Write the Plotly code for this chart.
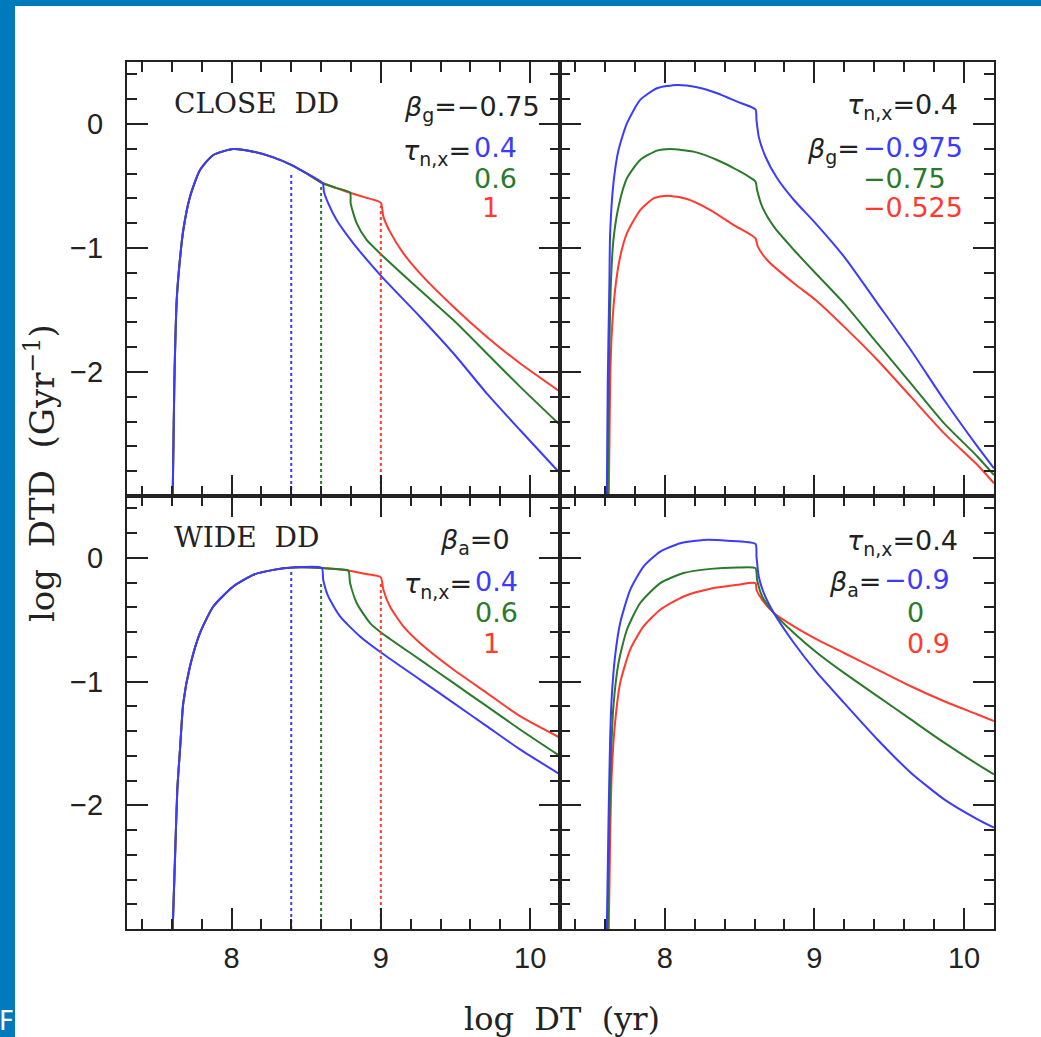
import plotly.graph_objects as go

W, H = 1041, 1037

BLUE = "#3b3bff"
GREEN = "#2a7a2a"
RED = "#ff3a2f"
INK = "#222222"

# ---------------- data ----------------
# Top-left: CLOSE DD, beta_g = -0.75, tau_n,x = 0.4 / 0.6 / 1
TL_BLUE_X = [7.606, 7.617, 7.633, 7.650, 7.677, 7.722, 7.789, 7.878, 8.012, 8.146, 8.280, 8.403, 8.503, 8.611,
             8.619, 8.648, 8.704, 8.816, 9.006, 9.262, 9.486, 9.709, 9.932, 10.2]
TL_BLUE_Y = [-3.0, -2.09, -1.42, -1.15, -0.855, -0.586, -0.371, -0.25, -0.202, -0.223, -0.269, -0.331, -0.398, -0.478,
             -0.546, -0.640, -0.774, -0.962, -1.231, -1.554, -1.849, -2.172, -2.468, -2.817]
TL_GREEN_X = [7.606, 7.617, 7.633, 7.650, 7.677, 7.722, 7.789, 7.878, 8.012, 8.146, 8.280, 8.403, 8.503, 8.611,
              8.70, 8.794, 8.798, 8.838, 8.905, 9.006, 9.262, 9.486, 9.709, 9.932, 10.2]
TL_GREEN_Y = [-3.0, -2.09, -1.42, -1.15, -0.855, -0.586, -0.371, -0.25, -0.202, -0.223, -0.269, -0.331, -0.398, -0.478,
              -0.515, -0.554, -0.64, -0.80, -0.935, -1.056, -1.339, -1.581, -1.849, -2.118, -2.427]
TL_RED_X = [7.606, 7.617, 7.633, 7.650, 7.677, 7.722, 7.789, 7.878, 8.012, 8.146, 8.280, 8.403, 8.503, 8.611,
            8.70, 8.794, 8.90, 8.999, 9.017, 9.061, 9.151, 9.262, 9.486, 9.709, 9.932, 10.2]
TL_RED_Y = [-3.0, -2.09, -1.42, -1.15, -0.855, -0.586, -0.371, -0.25, -0.202, -0.223, -0.269, -0.331, -0.398, -0.478,
            -0.515, -0.554, -0.594, -0.634, -0.747, -0.868, -1.043, -1.204, -1.473, -1.715, -1.93, -2.159]
TL_DOT_X = [8.4, 8.6, 9.0]
TL_DOT_TOP = [-0.40, -0.50, -0.66]

# Top-right: tau_n,x = 0.4, beta_g = -0.975 / -0.75 / -0.525
TR_BLUE_X = [7.613, 7.619, 7.630, 7.635, 7.657, 7.691, 7.747, 7.836, 7.948, 8.082, 8.216, 8.350, 8.484, 8.606,
             8.613, 8.628, 8.673, 8.751, 8.863, 9.008, 9.198, 9.421, 9.644, 9.867, 10.09, 10.2]
TR_BLUE_Y = [-3.0, -2.09, -1.285, -0.882, -0.478, -0.21, 0.005, 0.194, 0.288, 0.315, 0.296, 0.248, 0.18, 0.118,
             0.032, -0.102, -0.264, -0.438, -0.613, -0.801, -1.07, -1.446, -1.823, -2.226, -2.602, -2.777]
TR_GREEN_X = [7.619, 7.630, 7.640, 7.657, 7.691, 7.747, 7.836, 7.948, 8.036, 8.192, 8.350, 8.484, 8.606,
              8.617, 8.651, 8.729, 8.863, 9.008, 9.198, 9.421, 9.644, 9.867, 10.09, 10.2]
TR_GREEN_Y = [-3.0, -1.823, -1.285, -0.935, -0.667, -0.438, -0.29, -0.215, -0.202, -0.223, -0.29, -0.371, -0.465,
              -0.532, -0.667, -0.828, -1.016, -1.204, -1.446, -1.769, -2.091, -2.414, -2.683, -2.831]
TR_RED_X = [7.626, 7.635, 7.646, 7.668, 7.702, 7.747, 7.836, 7.925, 8.015, 8.149, 8.305, 8.461, 8.606,
            8.622, 8.684, 8.863, 9.008, 9.198, 9.421, 9.644, 9.867, 10.09, 10.2]
TR_RED_Y = [-3.0, -2.09, -1.688, -1.339, -1.07, -0.882, -0.694, -0.6, -0.578, -0.605, -0.694, -0.815, -0.922,
            -0.989, -1.097, -1.285, -1.419, -1.634, -1.903, -2.199, -2.495, -2.75, -2.898]

# Bottom-left: WIDE DD, beta_a = 0, tau_n,x = 0.4 / 0.6 / 1
BL_BLUE_X = [7.606, 7.622, 7.637, 7.655, 7.677, 7.722, 7.789, 7.878, 8.012, 8.146, 8.280, 8.414, 8.604,
             8.614, 8.648, 8.727, 8.861, 9.006, 9.262, 9.486, 9.709, 9.932, 10.2]
BL_BLUE_Y = [-3.0, -2.409, -1.871, -1.548, -1.172, -0.877, -0.607, -0.393, -0.231, -0.137, -0.097, -0.078, -0.081,
             -0.177, -0.312, -0.473, -0.635, -0.769, -0.984, -1.172, -1.36, -1.548, -1.75]
BL_GREEN_X = [7.606, 7.622, 7.637, 7.655, 7.677, 7.722, 7.789, 7.878, 8.012, 8.146, 8.280, 8.414, 8.604,
              8.70, 8.782, 8.794, 8.838, 8.928, 9.006, 9.262, 9.486, 9.709, 9.932, 10.2]
BL_GREEN_Y = [-3.0, -2.409, -1.871, -1.548, -1.172, -0.877, -0.607, -0.393, -0.231, -0.137, -0.097, -0.078, -0.081,
              -0.09, -0.102, -0.204, -0.365, -0.527, -0.607, -0.823, -1.011, -1.199, -1.387, -1.602]
BL_RED_X = [7.606, 7.622, 7.637, 7.655, 7.677, 7.722, 7.789, 7.878, 8.012, 8.146, 8.280, 8.414, 8.604,
            8.70, 8.782, 8.90, 8.999, 9.017, 9.061, 9.151, 9.262, 9.486, 9.709, 9.932, 10.2]
BL_RED_Y = [-3.0, -2.409, -1.871, -1.548, -1.172, -0.877, -0.607, -0.393, -0.231, -0.137, -0.097, -0.078, -0.081,
            -0.09, -0.102, -0.13, -0.156, -0.258, -0.393, -0.554, -0.688, -0.903, -1.091, -1.28, -1.454]
BL_DOT_X = [8.4, 8.6, 9.0]
BL_DOT_TOP = [-0.09, -0.20, -0.20]

# Bottom-right: tau_n,x = 0.4, beta_a = -0.9 / 0 / 0.9
BR_BLUE_X = [7.613, 7.624, 7.635, 7.646, 7.668, 7.702, 7.769, 7.858, 7.970, 8.104, 8.26, 8.416, 8.606,
             8.613, 8.628, 8.662, 8.729, 8.863, 9.019, 9.198, 9.421, 9.644, 9.867, 10.09, 10.2]
BR_BLUE_Y = [-3.0, -2.14, -1.468, -1.118, -0.796, -0.527, -0.258, -0.07, 0.051, 0.118, 0.145, 0.139, 0.113,
             0.01, -0.151, -0.285, -0.446, -0.688, -0.93, -1.172, -1.468, -1.736, -1.952, -2.113, -2.18]
BR_GREEN_X = [7.619, 7.630, 7.641, 7.657, 7.691, 7.747, 7.836, 7.970, 8.126, 8.305, 8.484, 8.606,
              8.617, 8.651, 8.729, 8.863, 9.019, 9.198, 9.421, 9.644, 9.867, 10.09, 10.2]
BR_GREEN_Y = [-3.0, -2.14, -1.602, -1.199, -0.849, -0.581, -0.365, -0.204, -0.123, -0.089, -0.078, -0.083,
              -0.177, -0.312, -0.446, -0.607, -0.769, -0.93, -1.118, -1.306, -1.494, -1.669, -1.75]
BR_RED_X = [7.626, 7.635, 7.646, 7.668, 7.702, 7.769, 7.858, 7.970, 8.126, 8.305, 8.484, 8.606,
            8.613, 8.651, 8.729, 8.863, 9.019, 9.198, 9.421, 9.644, 9.867, 10.09, 10.2]
BR_RED_Y = [-3.0, -2.274, -1.736, -1.333, -1.011, -0.742, -0.554, -0.419, -0.312, -0.25, -0.218, -0.204,
            -0.258, -0.339, -0.446, -0.554, -0.661, -0.769, -0.903, -1.038, -1.159, -1.266, -1.32]

X_TICKS = [8, 9, 10]
X_TICK_TEXT = ["8", "9", "10"]
Y_TICKS = [-2, -1, 0]
Y_TICK_TEXT = ["\u22122", "\u22121", "0"]

# ---------------- figure ----------------
fig = go.Figure()


def line(x, y, color, ax, dash="solid", shape="spline"):
    fig.add_trace(go.Scatter(x=x, y=y, mode="lines", xaxis="x" + ax, yaxis="y" + ax,
                             line=dict(color=color, width=2, dash=dash, shape=shape, smoothing=0.6),
                             hoverinfo="skip", showlegend=False))


cols = [BLUE, GREEN, RED]
for ax, series in [("", [(TL_BLUE_X, TL_BLUE_Y), (TL_GREEN_X, TL_GREEN_Y), (TL_RED_X, TL_RED_Y)]),
                   ("2", [(TR_BLUE_X, TR_BLUE_Y), (TR_GREEN_X, TR_GREEN_Y), (TR_RED_X, TR_RED_Y)]),
                   ("3", [(BL_BLUE_X, BL_BLUE_Y), (BL_GREEN_X, BL_GREEN_Y), (BL_RED_X, BL_RED_Y)]),
                   ("4", [(BR_BLUE_X, BR_BLUE_Y), (BR_GREEN_X, BR_GREEN_Y), (BR_RED_X, BR_RED_Y)])]:
    # draw red first, blue last (blue on top where the curves coincide)
    for (x, y), c in reversed(list(zip(series, cols))):
        line(x, y, c, ax)

for xs, tops, ax in [(TL_DOT_X, TL_DOT_TOP, ""), (BL_DOT_X, BL_DOT_TOP, "3")]:
    for xv, tv, c in zip(xs, tops, cols):
        line([xv, xv], [-3.0, tv], c, ax, dash="dot", shape="linear")

XL = [127 / W, 560 / W]
XR = [560 / W, 994 / W]
YT = [1 - 496 / H, 1 - 62 / H]
YB = [1 - 929 / H, 1 - 496 / H]

tickfont = dict(family="Liberation Sans, Arial, sans-serif", size=29, color=INK)


def xax(domain, anchor, labels):
    return dict(domain=domain, anchor=anchor, range=[7.3, 10.2], showgrid=False, zeroline=False,
                showline=True, linecolor=INK, linewidth=2, mirror="ticks",
                ticks="inside", ticklen=21, tickwidth=2, tickcolor=INK,
                tickmode="array", tickvals=X_TICKS, ticktext=X_TICK_TEXT,
                showticklabels=labels, tickfont=tickfont, ticklabelstandoff=2,
                minor=dict(tick0=0, dtick=0.2, ticks="inside", ticklen=10, tickwidth=2, tickcolor=INK),
                fixedrange=True)


def yax(domain, anchor, labels):
    return dict(domain=domain, anchor=anchor, range=[-3.0, 0.5], showgrid=False, zeroline=False,
                showline=True, linecolor=INK, linewidth=2, mirror="ticks",
                ticks="inside", ticklen=21, tickwidth=2, tickcolor=INK,
                tickmode="array", tickvals=Y_TICKS, ticktext=Y_TICK_TEXT,
                showticklabels=labels, tickfont=tickfont, ticklabelstandoff=16,
                minor=dict(tick0=0, dtick=0.2, ticks="inside", ticklen=10, tickwidth=2, tickcolor=INK),
                fixedrange=True)


def P(px, py):
    return px / W, 1 - py / H


anns = []
SANS = "DejaVu Sans, Verdana, sans-serif"
SERIF = "DejaVu Serif, serif"


def ann(text, px, py, xanchor="left", color=INK, size=27, family=SANS, angle=0):
    x, y = P(px, py)
    anns.append(dict(text=text, x=x, y=y, xref="paper", yref="paper", xanchor=xanchor, yanchor="middle",
                     showarrow=False, textangle=angle, font=dict(family=family, size=size, color=color)))


TAU = "<i>\u03c4</i><sub>n,x</sub>="
BETA_G = "<i>\u03b2</i><sub>g</sub>="
BETA_A = "<i>\u03b2</i><sub>a</sub>="

# top-left
ann("CLOSE  DD", 172, 103, "left", size=28, family=SERIF)
ann(BETA_G + "\u22120.75", 542, 109, "right")
ann(TAU, 473, 152, "right")
ann("0.4", 472, 148, "left", BLUE)
ann("0.6", 472, 178, "left", GREEN)
ann("1", 480, 208, "left", RED)
# top-right
ann(TAU + "0.4", 960, 107, "right")
ann(BETA_G, 862, 151, "right")
ann("\u22120.975", 861, 147, "left", BLUE)
ann("\u22120.75", 861, 178, "left", GREEN)
ann("\u22120.525", 861, 208, "left", RED)
# bottom-left
ann("WIDE  DD", 172, 537, "left", size=28, family=SERIF)
ann(BETA_A + "0", 512, 541, "right")
ann(TAU, 474, 585, "right")
ann("0.4", 473, 581, "left", BLUE)
ann("0.6", 473, 612, "left", GREEN)
ann("1", 481, 643, "left", RED)
# bottom-right
ann(TAU + "0.4", 960, 542, "right")
ann(BETA_A, 883, 583, "right")
ann("\u22120.9", 882, 579, "left", BLUE)
ann("0", 905, 612, "left", GREEN)
ann("0.9", 905, 643, "left", RED)

# axis titles
ann("log  DT  (yr)", 562, 1019, "center", size=32, family=SERIF)
ann("log  DTD  (Gyr<sup>\u22121</sup>)", 40, 473, "center", size=34, family=SERIF, angle=-90)
# slide artefact at bottom left
ann("F", -3, 1021, "left", color="white", size=26)

shapes = [
    dict(type="rect", xref="paper", yref="paper", x0=0, x1=15 / W, y0=0, y1=1,
         fillcolor="#0079bd", line=dict(width=0), layer="below"),
    dict(type="rect", xref="paper", yref="paper", x0=0, x1=1, y0=1 - 6 / H, y1=1,
         fillcolor="#0079bd", line=dict(width=0), layer="below"),
]

fig.update_layout(
    width=W, height=H, margin=dict(l=0, r=0, t=0, b=0),
    paper_bgcolor="white", plot_bgcolor="white", showlegend=False,
    xaxis=xax(XL, "y", False), yaxis=yax(YT, "x", True),
    xaxis2=xax(XR, "y2", False), yaxis2=yax(YT, "x2", False),
    xaxis3=xax(XL, "y3", True), yaxis3=yax(YB, "x3", True),
    xaxis4=xax(XR, "y4", True), yaxis4=yax(YB, "x4", False),
    annotations=anns, shapes=shapes,
)

fig.write_html("out.html")
